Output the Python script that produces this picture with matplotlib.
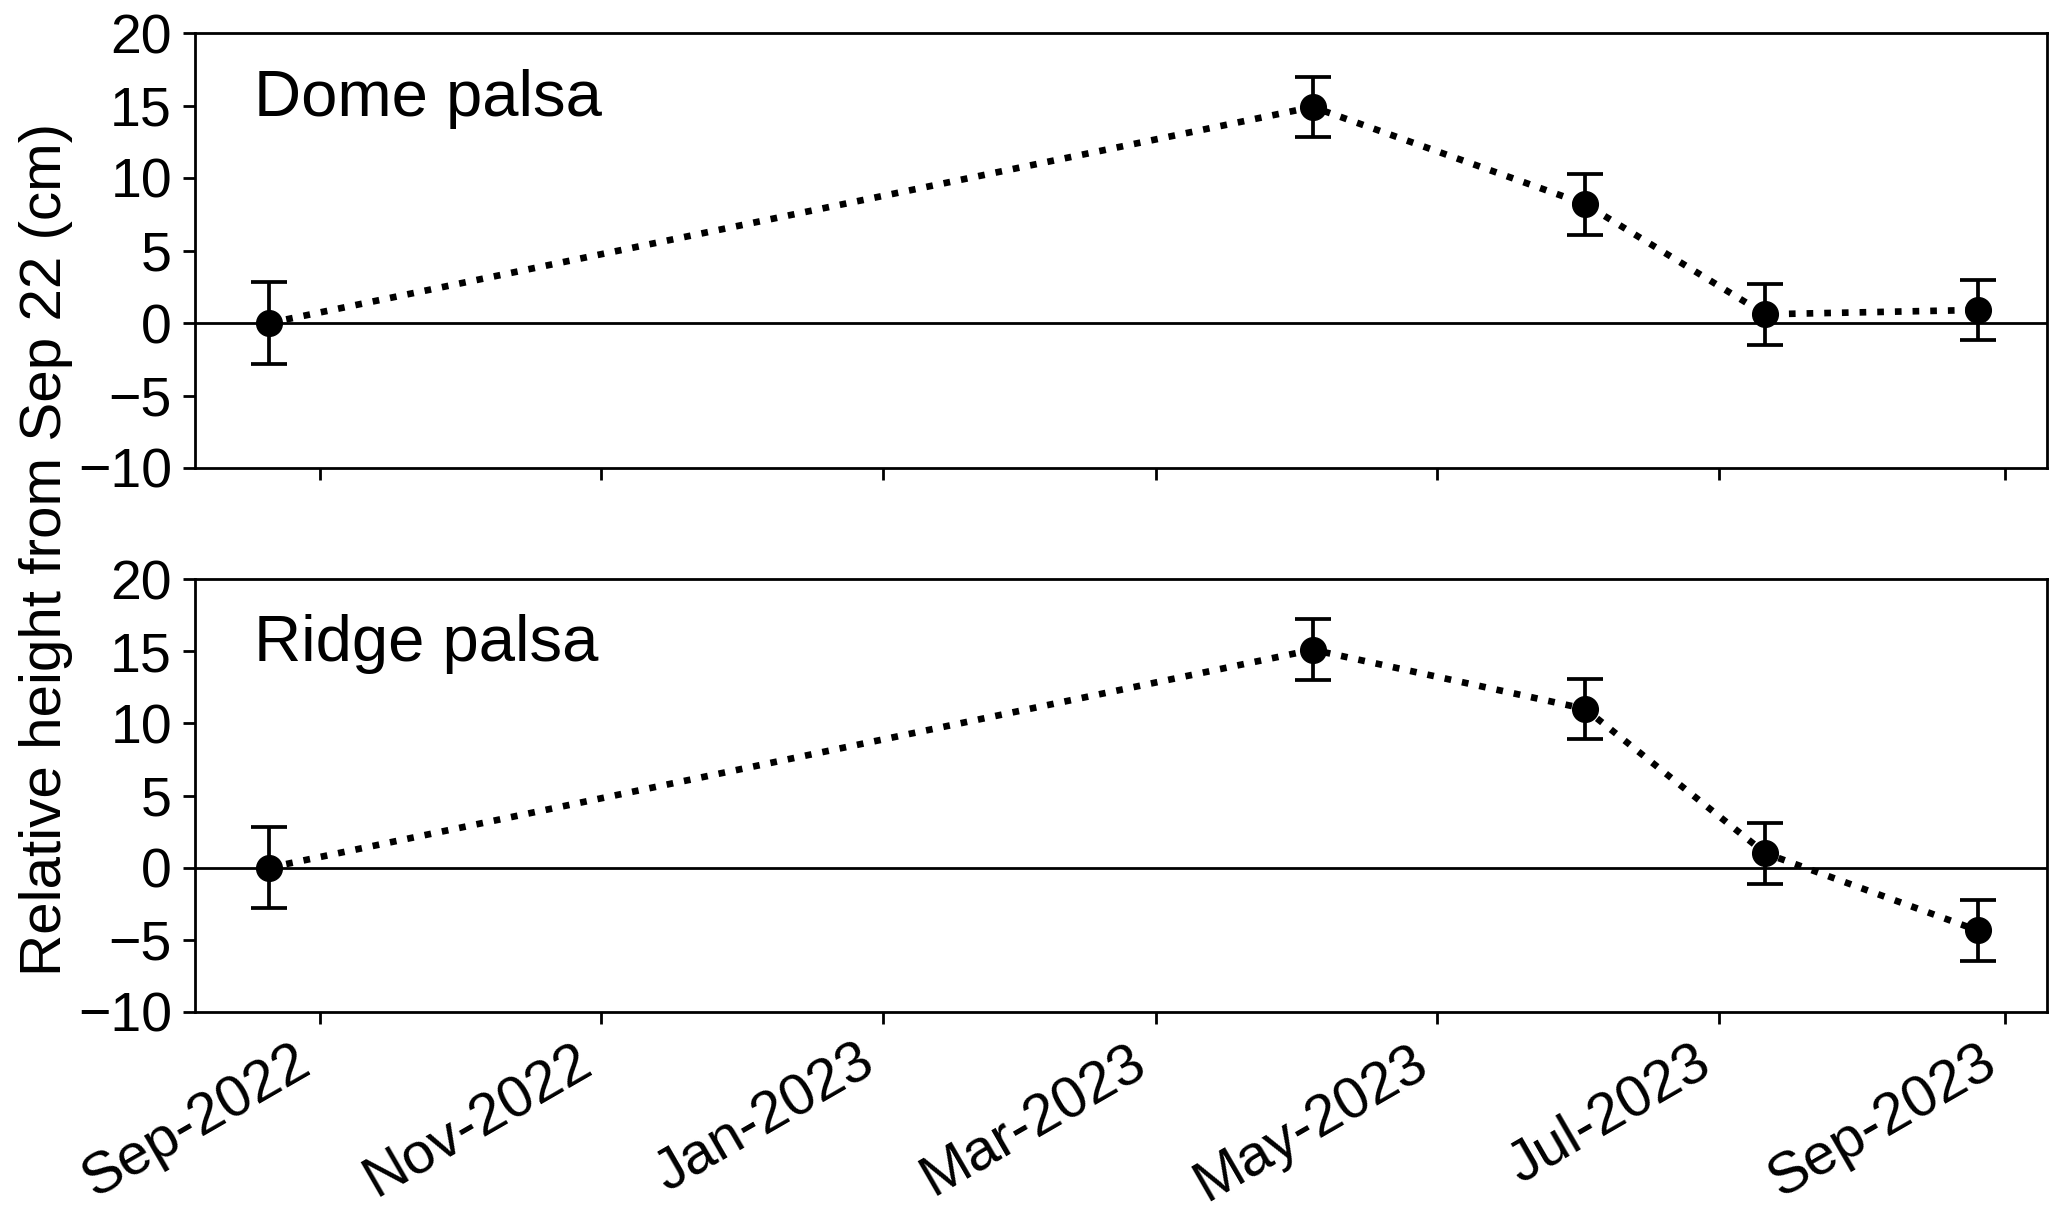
import datetime as dt
import matplotlib
matplotlib.use("Agg")
import matplotlib.pyplot as plt
import matplotlib.dates as mdates

# ---- data ----
dates = ["2022-08-21", "2023-04-04", "2023-06-02", "2023-07-11", "2023-08-26"]
dome = [0.0, 14.9, 8.2, 0.6, 0.9]
dome_err = [2.8, 2.1, 2.1, 2.1, 2.1]
ridge = [0.0, 15.1, 11.0, 1.0, -4.35]
ridge_err = [2.8, 2.1, 2.1, 2.1, 2.1]
panel_labels = ["Dome palsa", "Ridge palsa"]
y_ticks = [-10, -5, 0, 5, 10, 15, 20]
x_start, x_end = "2022-08-05", "2023-09-10"
ylabel = "Relative height from Sep 22 (cm)"

plt.rcParams["font.family"] = ["Liberation Sans", "DejaVu Sans"]

x = [dt.datetime.strptime(d, "%Y-%m-%d") for d in dates]
xlim = (dt.datetime.strptime(x_start, "%Y-%m-%d"), dt.datetime.strptime(x_end, "%Y-%m-%d"))

W, H = 2067, 1219
fig = plt.figure(figsize=(W / 100, H / 100), dpi=100)
left = 195 / W
width = (2047 - 195) / W
ax1 = fig.add_axes([left, 1 - 468 / H, width, 435 / H])
ax2 = fig.add_axes([left, 1 - 1012 / H, width, 433 / H])

for ax, vals, errs, lab in [(ax1, dome, dome_err, panel_labels[0]),
                            (ax2, ridge, ridge_err, panel_labels[1])]:
    ax.axhline(0, color="black", lw=2.0, zorder=1)
    ax.errorbar(x, vals, yerr=errs, fmt="o", color="black", ms=18.5, ls=":",
                lw=4.8, elinewidth=2.7, capsize=13, capthick=2.7, zorder=3)
    ax.set_ylim(-10, 20)
    ax.set_yticks(y_ticks)
    ax.set_xlim(*xlim)
    ax.xaxis.set_major_locator(mdates.MonthLocator(bymonth=[1, 3, 5, 7, 9, 11]))
    ax.xaxis.set_major_formatter(mdates.DateFormatter("%b-%Y"))
    ax.tick_params(axis="both", width=2, length=8.6, pad=8, direction="out")
    ax.tick_params(axis="y", labelsize=40)
    ax.tick_params(axis="x", labelsize=42)
    for s in ax.spines.values():
        s.set_linewidth(2)
    ax.text(0.032, 0.81, lab, transform=ax.transAxes, fontsize=47,
            ha="left", va="baseline")

ax1.tick_params(axis="x", labelbottom=False)
for t in ax2.get_xticklabels():
    t.set_rotation(30)
    t.set_ha("right")

fig.text(46 / W, 1 - 549 / H, ylabel, rotation=90, fontsize=42,
         ha="center", va="center")

fig.savefig("out.png", dpi=100)
